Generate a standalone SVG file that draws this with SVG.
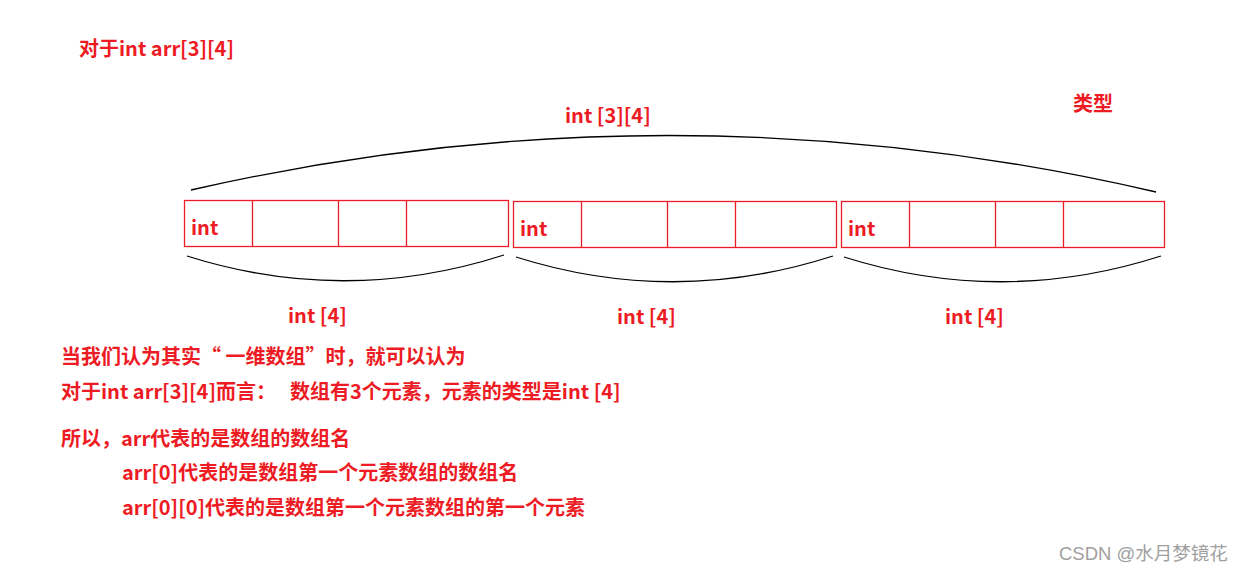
<svg xmlns="http://www.w3.org/2000/svg" width="1246" height="573" viewBox="0 0 1246 573">
<style>
.t{font-family:"Microsoft YaHei","Noto Sans CJK SC","Noto Sans",sans-serif;font-weight:bold;font-size:20px;fill:#ED1C24}
.box{fill:none;stroke:#ED1C24;stroke-width:1.3}
.cv{fill:none;stroke:#000;stroke-width:1.3}
.wm{font-family:"Liberation Sans","Noto Sans CJK SC",sans-serif;font-size:18.5px;fill:#a0a0a0}
</style>
<rect width="1246" height="573" fill="#fff"/>
<text class="t" x="79" y="55.5">对于int arr[3][4]</text>
<g id="type-label"><text class="t" x="1073" y="110.5">类型</text></g>
<g id="connectors">
<path class="cv" d="M191,190 Q673,80 1156,192"/>
<path class="cv" d="M187,256 Q345,306 504,255"/>
<path class="cv" d="M516,257 Q674,307 833,256"/>
<path class="cv" d="M844,257 Q1002,307 1161,256"/>
</g>
<g id="top-label"><text class="t" x="565" y="123">int [3][4]</text></g>
<g id="row0">
<rect class="box" x="184.5" y="200.5" width="324" height="46"/>
<path class="box" d="M252.5,200.5V246.5M338.5,200.5V246.5M406.5,200.5V246.5"/>
<text class="t" x="191" y="235">int</text>
</g>
<g id="row1">
<rect class="box" x="513.5" y="201.5" width="323" height="46"/>
<path class="box" d="M581.5,201.5V247.5M667.5,201.5V247.5M735.5,201.5V247.5"/>
<text class="t" x="520" y="236">int</text>
</g>
<g id="row2">
<rect class="box" x="841.5" y="201.5" width="323" height="46"/>
<path class="box" d="M909.5,201.5V247.5M995.5,201.5V247.5M1063.5,201.5V247.5"/>
<text class="t" x="848" y="236">int</text>
</g>
<g id="sub-labels">
<text class="t" x="288" y="323">int [4]</text>
<text class="t" x="617" y="324">int [4]</text>
<text class="t" x="945" y="324">int [4]</text>
</g>
<g id="notes">
<text class="t" x="61" y="364">当我们认为其实“ 一维数组”时，就可以认为</text>
<text class="t" x="61" y="398.5">对于int arr[3][4]而言：<tspan x="290">数组有3个元素，元素的类型是int [4]</tspan></text>
<text class="t" x="61" y="445.5">所以，arr代表的是数组的数组名</text>
<text class="t" x="122" y="479.5">arr[0]代表的是数组第一个元素数组的数组名</text>
<text class="t" x="122" y="514.5">arr[0][0]代表的是数组第一个元素数组的第一个元素</text>
</g>
<text class="wm" x="1059" y="560">CSDN @水月梦镜花</text>
</svg>
